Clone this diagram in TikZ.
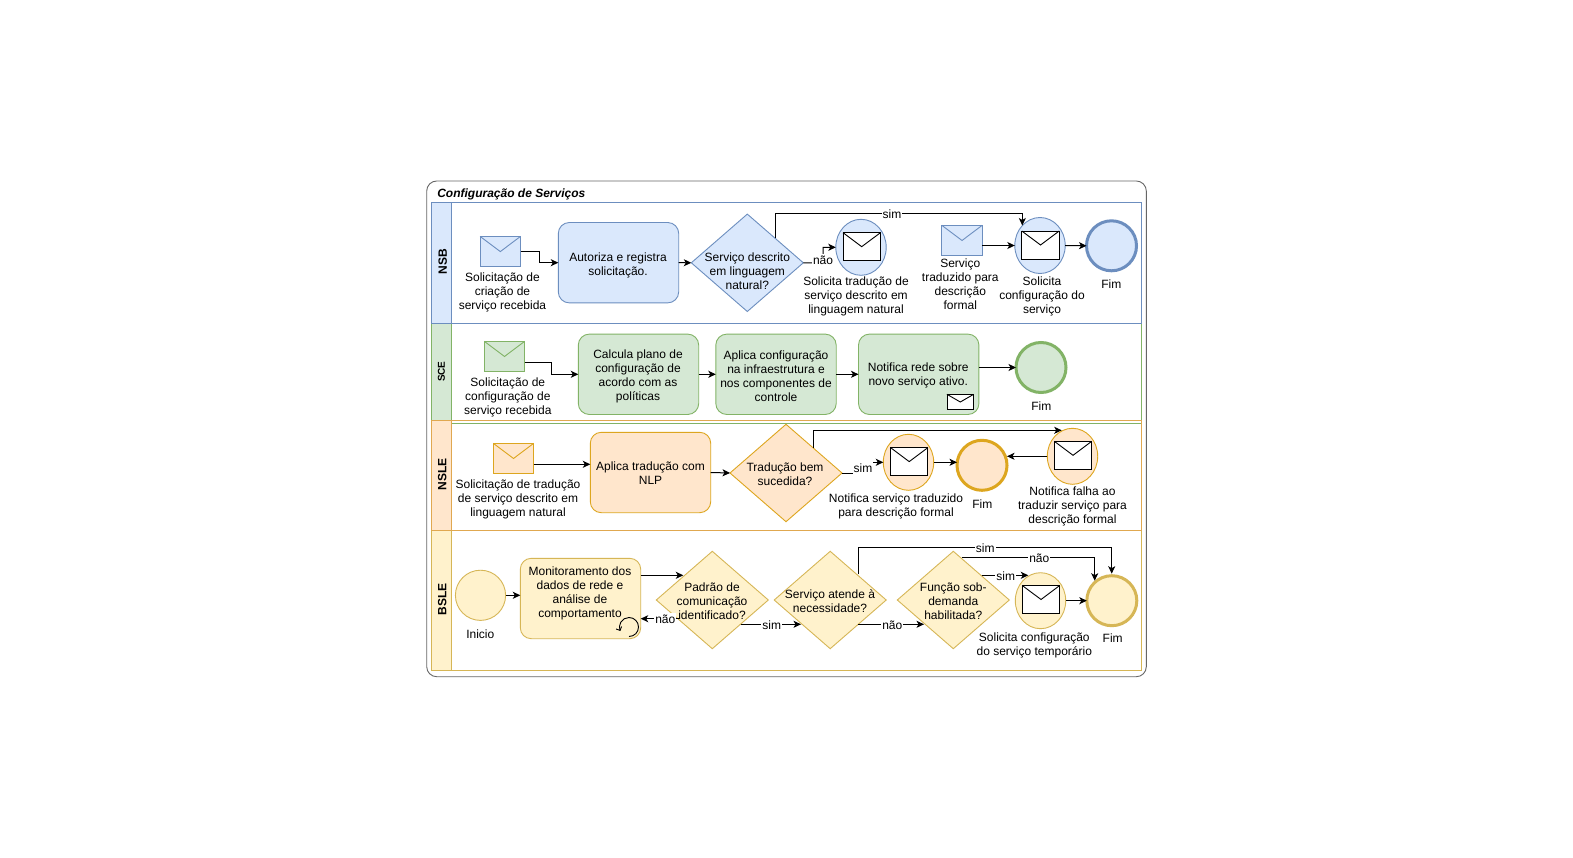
\documentclass[tikz,border=0pt]{standalone}
\usepackage{fontspec}
\setmainfont{Liberation Sans}
\usetikzlibrary{arrows.meta,shapes.geometric}
\definecolor{fb}{HTML}{DAE8FC}\definecolor{sb}{HTML}{6C8EBF}
\definecolor{fg}{HTML}{D5E8D4}\definecolor{sg}{HTML}{82B366}
\definecolor{fo}{HTML}{FFE6CC}\definecolor{so}{HTML}{D79B00}
\definecolor{fy}{HTML}{FFF2CC}\definecolor{sy}{HTML}{D6B656}
\definecolor{lo}{HTML}{E0A850}
\tikzset{
 every node/.style={inner sep=0pt,outer sep=0pt,font=\fontsize{12}{14}\selectfont},
 txt/.style={align=center,text=black},
 lbl/.style={fill=white,inner xsep=1pt,inner ysep=1.5pt,text=black},
 lane/.style={font=\fontsize{12}{14}\selectfont\bfseries,rotate=90},
 blueset/.style={draw=sb,fill=fb},
 greenset/.style={draw=sg,fill=fg},
 orangeset/.style={draw=so!85!fo,fill=fo},
 yellowset/.style={draw=sy,fill=fy},
 taskbox/.style={rectangle,rounded corners=11pt,minimum width=120.4pt,minimum height=80.4pt},
 dia/.style={diamond,minimum width=112pt,minimum height=97.4pt},
 evt/.style={ellipse,minimum width=50.4pt,minimum height=56pt},
 endev/.style={circle,line width=3pt,minimum size=50pt},
 startev/.style={circle,minimum size=50.2pt},
 env/.style={rectangle,minimum width=40.4pt,minimum height=30.4pt},
 envw/.style={rectangle,draw=black,fill=white,minimum width=37.4pt,minimum height=28pt},
 arr/.style={draw=black,line width=1pt,-{Stealth[length=7.5pt,width=7pt,inset=2pt]}},
}
\newcommand{\flap}[1]{\draw (#1.north west) -- (#1.center) -- (#1.north east);}
\newcommand{\flapc}[2]{\draw[draw=#2] (#1.north west) -- (#1.center) -- (#1.north east);}
\begin{document}
\begin{tikzpicture}[x=1pt,y=-1pt,line width=0.9pt]
\useasboundingbox (0,0) rectangle (1573,858);
% pool
\draw[black!60,rounded corners=10pt,fill=white] (426.7,181) rectangle (1146.3,676.7);
\node[anchor=west,font=\fontsize{12}{14}\selectfont\bfseries\itshape] (title) at (437.3,194.3) {Configuração de Serviços};
% lanes
\draw[sg] (431.5,323.5) rectangle (1141.3,423.2);
\draw[sg,fill=fg] (431.5,323.5) rectangle (451.5,423.2);
\draw[sb] (431.5,202.3) rectangle (1141.3,323.5);
\draw[sb,fill=fb] (431.5,202.3) rectangle (451.5,323.5);
\draw[sy] (431.5,530.5) rectangle (1141.3,670.3);
\draw[sy,fill=fy] (431.5,530.5) rectangle (451.5,670.3);
\draw[lo] (431.5,420.7) rectangle (1141.3,530.5);
\draw[lo,fill=fo] (431.5,420.7) rectangle (451.5,530.5);
\draw[sg] (451.5,423.2) -- (1141.3,423.2);
\node[lane] (lnsb) at (442.7,261.7) {NSB};
\node[lane,font=\fontsize{10}{12}\selectfont\bfseries] (lsce) at (441.4,371.7) {SCE};
\node[lane] (lnsle) at (442.2,474.3) {NSLE};
\node[lane] (lbsle) at (442.2,599.3) {BSLE};

% NSB nodes
\node[env,blueset,draw] (a1) at (500.3,251.6) {}; \flapc{a1}{sb}
\node[txt] (a1t) at (502.5,292.7) {Solicitação de\\criação de\\serviço recebida};
\node[taskbox,blueset,draw] (a2) at (618.5,262.7) {};
\node[txt] (a2t) at (618,265.7) {Autoriza e registra\\solicitação.};
\node[dia,blueset,draw] (a3) at (747.3,262.8) {};
\node[txt] (a3t) at (747.3,271.7) {Serviço descrito\\em linguagem\\natural?};
\node[evt,blueset,draw] (a4) at (861,247.3) {};
\node[envw] (a4m) at (861.7,246.7) {}; \flap{a4m}
\node[txt] (a4t) at (856,296.7) {Solicita tradução de\\serviço descrito em\\linguagem natural};
\node[env,blueset,draw] (a5) at (962,240.5) {}; \flapc{a5}{sb}
\node[txt] (a5t) at (960.3,284) {Serviço\\traduzido para\\descrição\\formal};
\node[evt,blueset,draw] (a6) at (1040,245.5) {};
\node[envw] (a6m) at (1040.5,245) {}; \flap{a6m}
\node[txt] (a6t) at (1042,296.7) {Solicita\\configuração do\\serviço};
\node[endev,blueset,draw] (a7) at (1111.5,245.8) {};
\node[txt] (a7t) at (1111.3,283.7) {Fim};
% NSB connectors
\coordinate (a3s) at (775.3,238);
\coordinate (a3n) at (823,263);
\coordinate (a6in) at (1022.3,225.5);
\coordinate (a3top) at (775.3,213.3);
\draw[arr] (a1.east) -- (539.7,251.6) -- (539.7,262.7) -- (a2.west);
\draw[arr] (a2.east) -- (a3.west);
\draw[arr] (a3.east) -- (a3n) -- (a3n |- a4.west) -- (a4.west);
\draw[arr] (a3s) -- (a3top) -- (a3top -| a6in) -- (a6in);
\draw[arr] (a5.east |- a6.west) -- (a6.west);
\draw[arr] (a6.east) -- (a7.west);
\node[lbl] (a3nl) at (823,260) {não};
\node[lbl] (a3sl) at (892,214.3) {sim};

% SCE nodes
\node[env,greenset,draw] (b1) at (504.5,356.5) {}; \flapc{b1}{sg}
\node[txt] (b1t) at (507.8,397.7) {Solicitação de\\configuração de\\serviço recebida};
\node[taskbox,greenset,draw] (b2) at (638.5,374.3) {};
\node[txt] (b2t) at (638,376.3) {Calcula plano de\\configuração de\\acordo com as\\políticas};
\node[taskbox,greenset,draw] (b3) at (776,374.3) {};
\node[txt] (b3t) at (776,376.3) {Aplica configuração\\na infraestrutura e\\nos componentes de\\controle};
\node[taskbox,greenset,draw] (b4) at (918.7,374.3) {};
\node[txt] (b4t) at (918.2,375.5) {Notifica rede sobre\\novo serviço ativo.};
\node[rectangle,draw=black,fill=white,minimum width=26.7pt,minimum height=15.4pt] (b4m) at (960.3,402) {}; \flap{b4m}
\node[endev,greenset,draw] (b5) at (1041,367.5) {};
\node[txt] (b5t) at (1041.3,405.7) {Fim};
\draw[arr] (b1.east |- 0,362.3) -- (551.3,362.3) -- (551.3,374.3) -- (b2.west);
\draw[arr] (b2.east) -- (b3.west);
\draw[arr] (b3.east) -- (b4.west);
\draw[arr] (b4.east |- b5.west) -- (b5.west);

% NSLE nodes
\node[env,orangeset,draw] (c1) at (513.5,458.5) {}; \flapc{c1}{so!85!fo}
\node[txt] (c1t) at (518,499.5) {Solicitação de tradução\\de serviço descrito em\\linguagem natural};
\node[taskbox,orangeset,draw] (c2) at (650.5,472.5) {};
\node[txt] (c2t) at (650.5,473.5) {Aplica tradução com\\NLP};
\node[dia,orangeset,draw] (c3) at (786,473) {};
\node[txt] (c3t) at (785,474.7) {Tradução bem\\sucedida?};
\node[evt,orangeset,draw] (c4) at (908.5,462.3) {};
\node[envw] (c4m) at (909.2,461.6) {}; \flap{c4m}
\node[txt] (c4t) at (896,506) {Notifica serviço traduzido\\para descrição formal};
\node[endev,orangeset,draw] (c5) at (982,465.3) {};
\node[txt] (c5t) at (982.3,503.7) {Fim};
\node[evt,orangeset,draw] (c6) at (1072.5,456.3) {};
\node[envw] (c6m) at (1073,455.3) {}; \flap{c6m}
\node[txt] (c6t) at (1072.5,506.5) {Notifica falha ao\\traduzir serviço para\\descrição formal};
\coordinate (c3top) at (813.7,448);
\coordinate (c6in) at (1061.7,430.3);
\coordinate (c3n) at (862,473);
\coordinate (c4in) at (883.3,462.3);
\draw[arr] (c1.east |- 0,464.3) -- (c2.west |- 0,464.3);
\draw[arr] (c2.east) -- (c3.west);
\draw[arr] (c3.east) -- (c3n) -- (c3n |- c4in) -- (c4in);
\draw[arr] (c3top) -- (c3top |- c6in) -- (c6in);
\draw[arr] (c4.east) -- (c5.west |- c4.east);
\draw[arr] (c6.west) -- (c5.east |- c6.west);
\node[lbl] (c3sl) at (863,468.2) {sim};

% BSLE nodes
\node[startev,yellowset,draw] (d1) at (480.5,595.3) {};
\node[txt] (d1t) at (480.3,634.7) {Inicio};
\node[taskbox,yellowset,draw] (d2) at (580.5,598.5) {};
\node[txt] (d2t) at (580,593.7) {Monitoramento dos\\dados de rede e\\análise de\\comportamento};
\node[dia,yellowset,draw] (d3) at (712.3,600) {};
\node[txt] (d3t) at (712,601.7) {Padrão de\\comunicação\\identificado?};
\node[dia,yellowset,draw] (d4) at (830.2,600) {};
\node[txt] (d4t) at (830,601) {Serviço atende à\\necessidade?};
\node[dia,yellowset,draw] (d5) at (953.3,600) {};
\node[txt] (d5t) at (953.3,601.7) {Função sob-\\demanda\\habilitada?};
\node[evt,yellowset,draw] (d6) at (1040.5,600.7) {};
\node[envw] (d6m) at (1041,599.5) {}; \flap{d6m}
\node[txt] (d6t) at (1034.3,645.7) {Solicita configuração\\do serviço temporário};
\node[endev,yellowset,draw] (d7) at (1111.8,600.7) {};
\node[txt] (d7t) at (1112.7,638.3) {Fim};
\coordinate (d2o) at (640.7,575.3);
\coordinate (d3in) at (683.3,575.3);
\coordinate (d3no) at (680,618.7);
\coordinate (d3so) at (740.7,624.3);
\coordinate (d4si) at (801,624.3);
\coordinate (d4top) at (858,574.3);
\coordinate (d4y) at (858,547.3);
\coordinate (d7ia) at (1111.7,573.7);
\coordinate (d4no) at (858,624.3);
\coordinate (d5ni) at (924,624.3);
\coordinate (d5top) at (961.7,557.7);
\coordinate (d7ib) at (1094.7,580.7);
\coordinate (d5so) at (981.7,575.3);
\coordinate (d6in) at (1028.3,575.3);
\draw[arr] (d1.east) -- (d2.west |- d1.east);
\draw[arr] (d2o) -- (d3in);
\draw[arr] (d3no) -- (d2.east |- d3no);
\draw[arr] (d3so) -- (d4si);
\draw[arr] (d4top) -- (d4y) -- (d4y -| d7ia) -- (d7ia);
\draw[arr] (d4no) -- (d5ni);
\draw[arr] (d5top) -- (d5top -| d7ib) -- (d7ib);
\draw[arr] (d5so) -- (d6in);
\draw[arr] (d6.east) -- (d7.west);
\node[lbl] (d3nl) at (665.3,619.3) {não};
\node[lbl] (d3sl) at (771.7,625.3) {sim};
\node[lbl] (d4sl) at (985.3,548.3) {sim};
\node[lbl] (d4nl) at (892.3,625.3) {não};
\node[lbl] (d5nl) at (1039.3,558.7) {não};
\node[lbl] (d5sl) at (1005.7,576.3) {sim};
% loop marker
\draw[black,-{Straight Barb[length=3pt,width=6pt]}] (629,636.5) arc[start angle=-90,end angle=205,radius=9.5pt];
\end{tikzpicture}
\end{document}
